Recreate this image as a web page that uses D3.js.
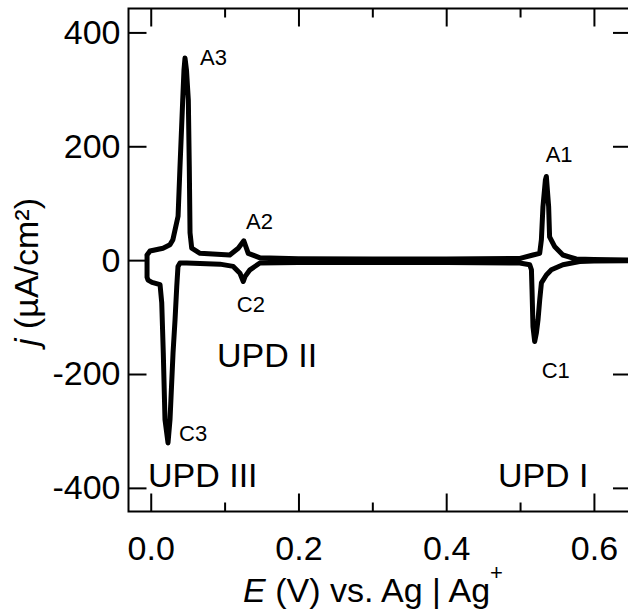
<!DOCTYPE html>
<html>
<head>
<meta charset="utf-8">
<script src="https://cdn.jsdelivr.net/npm/d3@7"></script>
<style>
  html, body { margin: 0; padding: 0; background: #fff; }
  svg { display: block; font-family: "Liberation Sans", Arial, sans-serif; }
</style>
</head>
<body>
<svg id="chart" width="628" height="614"></svg>
<script>
// ---- data ----
// Anodic (forward) sweep, E increasing
const anodicE = [-0.005, -0.001, 0.0166, 0.026, 0.030, 0.037, 0.0396, 0.0433, 0.045, 0.0464, 0.0484, 0.0509, 0.0522, 0.0532, 0.0555, 0.0667, 0.107, 0.1185, 0.126, 0.132, 0.148, 0.2, 0.3, 0.4, 0.5, 0.5175, 0.5266, 0.5289, 0.531, 0.5343, 0.5356, 0.5387, 0.540, 0.5467, 0.558, 0.576, 0.6, 0.65];
const anodicJ = [9, 16, 21, 27, 36, 77, 164, 281, 334, 355, 334, 281, 164, 48, 21, 12, 9, 21, 34, 12, 4, 2.5, 2, 2, 3, 9, 12, 36, 94, 141, 147, 94, 41, 24, 9, 2, 1, 0];
// Cathodic (reverse) sweep, E decreasing
const cathodicE = [0.65, 0.6, 0.5807, 0.558, 0.5424, 0.5356, 0.5289, 0.5266, 0.5243, 0.5221, 0.5198, 0.5175, 0.5162, 0.5154, 0.5131, 0.4996, 0.4, 0.3, 0.2, 0.1478, 0.1343, 0.1276, 0.1253, 0.1208, 0.1117, 0.0937, 0.0487, 0.0396, 0.0369, 0.0352, 0.0329, 0.0302, 0.0261, 0.0234, 0.0193, 0.0170, 0.0149, 0.0126, 0.0018, -0.0037, -0.005, -0.005];
const cathodicJ = [-1, -1.5, -2.5, -8, -17, -26, -40, -70, -105, -128, -143, -117, -52, -17, -8, -5, -4, -4, -4, -5, -17, -29, -37.6, -23, -11, -7, -5, -5, -11, -47, -105, -163, -280, -321, -280, -163, -75, -43, -39, -35, -30, 9];

const xTicks = [0.0, 0.2, 0.4, 0.6];
const xMinorTicks = [0.1, 0.3, 0.5];
const yTicks = [-400, -200, 0, 200, 400];

const peakLabels = ["A3", "A2", "C2", "A1", "C1", "C3"];
const peakE = [0.0667, 0.129, 0.1166, 0.5347, 0.5293, 0.0383];
const peakJ = [343, 55, -90.5, 172.6, -206.7, -317];

const regionLabels = ["UPD II", "UPD III", "UPD I"];
const regionE = [0.0897, -0.0037, 0.47];
const regionJ = [-187, -398, -398];

// ---- layout ----
const svg = d3.select("#chart");
const mL = 128.5, mR = 631, mT = 8.5, mB = 511.5;
const x = d3.scaleLinear().domain([-0.0301, 0.6502]).range([mL, mR]);
const y = d3.scaleLinear().domain([-441.5, 442]).range([mB, mT]);

const pts = anodicE.map((e, i) => [e, anodicJ[i]])
  .concat(cathodicE.map((e, i) => [e, cathodicJ[i]]));

svg.append("defs").append("clipPath").attr("id", "clip")
  .append("rect").attr("x", mL).attr("y", mT).attr("width", mR - mL).attr("height", mB - mT);

const line = d3.line().x(d => x(d[0])).y(d => y(d[1])).curve(d3.curveLinear);
svg.append("path")
  .attr("clip-path", "url(#clip)")
  .attr("d", line(pts))
  .attr("fill", "none")
  .attr("stroke", "#000")
  .attr("stroke-width", 5)
  .attr("stroke-linejoin", "round")
  .attr("stroke-linecap", "round");

// axes (ticks inward)
const fs = 34;
const axB = svg.append("g").attr("transform", `translate(0,${mB})`)
  .call(d3.axisBottom(x).tickValues(xTicks).tickSizeInner(-18).tickSizeOuter(0).tickFormat(d3.format(".1f")).tickPadding(24));
const axBm = svg.append("g").attr("transform", `translate(0,${mB})`)
  .call(d3.axisBottom(x).tickValues(xMinorTicks).tickSizeInner(-9).tickSizeOuter(0).tickFormat(""));
const axT = svg.append("g").attr("transform", `translate(0,${mT})`)
  .call(d3.axisTop(x).tickValues(xTicks).tickSizeInner(-18).tickSizeOuter(0).tickFormat(""));
const axTm = svg.append("g").attr("transform", `translate(0,${mT})`)
  .call(d3.axisTop(x).tickValues(xMinorTicks).tickSizeInner(-9).tickSizeOuter(0).tickFormat(""));
const axL = svg.append("g").attr("transform", `translate(${mL},0)`)
  .call(d3.axisLeft(y).tickValues(yTicks).tickSizeInner(-18).tickSizeOuter(0).tickFormat(d3.format("d")).tickPadding(8));
const axR = svg.append("g").attr("transform", `translate(${mR},0)`)
  .call(d3.axisRight(y).tickValues(yTicks).tickSizeInner(-18).tickSizeOuter(0).tickFormat(""));

[axB, axBm, axT, axTm, axL, axR].forEach(g => {
  g.select(".domain").remove();
  g.selectAll(".tick line").attr("stroke", "#000").attr("stroke-width", 2);
  g.selectAll(".tick text").attr("fill", "#000").style("font-size", fs + "px")
    .style("font-family", '"Liberation Sans", Arial, sans-serif');
});
axL.selectAll(".tick text").text(d => d < 0 ? "-" + Math.abs(d) : d);

// frame
svg.append("rect").attr("x", mL).attr("y", mT).attr("width", mR - mL).attr("height", mB - mT)
  .attr("fill", "none").attr("stroke", "#000").attr("stroke-width", 2);

// peak labels
peakLabels.forEach((t, i) => {
  svg.append("text").attr("x", x(peakE[i])).attr("y", y(peakJ[i]))
    .style("font-size", "22px").attr("fill", "#000").text(t);
});
regionLabels.forEach((t, i) => {
  svg.append("text").attr("x", x(regionE[i])).attr("y", y(regionJ[i]))
    .style("font-size", fs + "px").attr("fill", "#000").text(t);
});

// x title
const xt = svg.append("text").attr("x", 373).attr("y", 602).attr("text-anchor", "middle")
  .style("font-size", fs + "px").attr("fill", "#000");
xt.append("tspan").style("font-style", "italic").text("E");
xt.append("tspan").text(" (V) vs. Ag | Ag");
xt.append("tspan").attr("dy", -22).style("font-size", "22px").text("+");

// y title
const yt = svg.append("text").attr("transform", `translate(38,${(mT + mB) / 2 + 12}) rotate(-90)`)
  .attr("text-anchor", "middle").style("font-size", fs + "px").attr("fill", "#000");
yt.append("tspan").style("font-style", "italic").text("j");
yt.append("tspan").text(" (µA/cm²)");
</script>
</body>
</html>
